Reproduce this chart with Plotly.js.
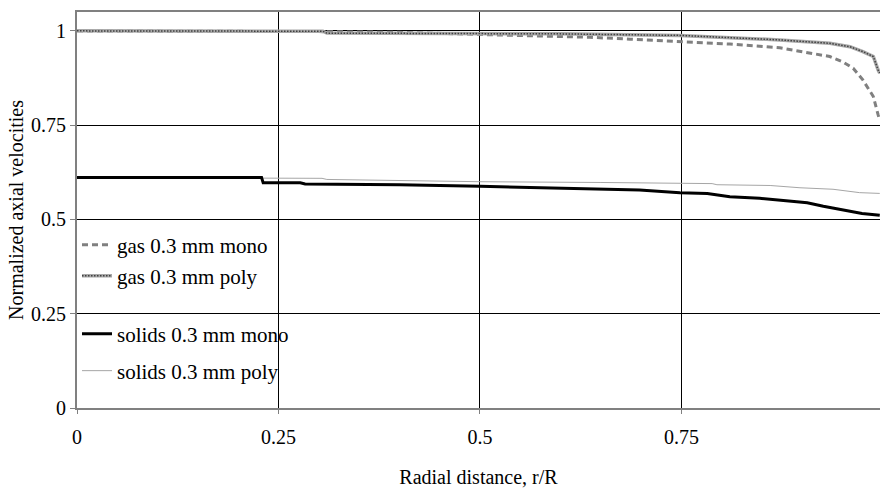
<!DOCTYPE html>
<html>
<head>
<meta charset="utf-8">
<script src="https://cdn.plot.ly/plotly-3.0.1.min.js"></script>
<style>html,body{margin:0;padding:0;background:#fff;}#chart{width:880px;height:488px;}</style>
</head>
<body>
<div id="chart"></div>
<script>
// Gas, 0.3 mm mono (dashed)
const gasMonoR = [0, 0.1, 0.2, 0.3, 0.4, 0.5, 0.55, 0.636, 0.686, 0.748, 0.81, 0.872, 0.913, 0.934, 0.95, 0.963, 0.975, 0.988, 0.994, 0.996];
const gasMonoV = [1.0, 1.0, 0.999, 0.998, 0.996, 0.991, 0.989, 0.983, 0.978, 0.972, 0.965, 0.955, 0.941, 0.932, 0.918, 0.901, 0.870, 0.826, 0.777, 0.763];
// Gas, 0.3 mm poly (textured)
const gasPolyR = [0, 0.1, 0.2, 0.305, 0.31, 0.4, 0.5, 0.6, 0.748, 0.872, 0.934, 0.959, 0.975, 0.988, 0.994, 0.996];
const gasPolyV = [1.0, 1.0, 0.999, 0.999, 0.994, 0.994, 0.994, 0.992, 0.988, 0.976, 0.967, 0.958, 0.945, 0.932, 0.896, 0.888];
// Solids, 0.3 mm mono (thick black)
const solMonoR = [0, 0.229, 0.231, 0.277, 0.283, 0.4, 0.5, 0.599, 0.698, 0.748, 0.782, 0.81, 0.847, 0.893, 0.906, 0.926, 0.95, 0.974, 0.996];
const solMonoV = [0.611, 0.611, 0.597, 0.597, 0.594, 0.592, 0.588, 0.583, 0.578, 0.571, 0.569, 0.560, 0.556, 0.547, 0.544, 0.535, 0.526, 0.516, 0.511];
// Solids, 0.3 mm poly (thin grey)
const solPolyR = [0, 0.229, 0.304, 0.31, 0.5, 0.649, 0.748, 0.788, 0.794, 0.86, 0.897, 0.938, 0.971, 0.996];
const solPolyV = [0.611, 0.610, 0.609, 0.606, 0.600, 0.598, 0.595, 0.595, 0.592, 0.590, 0.584, 0.580, 0.571, 0.569];

const xTicks = [0, 0.25, 0.5, 0.75];
const xTickText = ['0', '0.25', '0.5', '0.75'];
const yTicks = [0, 0.25, 0.5, 0.75, 1];
const yTickText = ['0', '0.25', '0.5', '0.75', '1'];

const F = 'Times New Roman';
const FS = 20;
const FL = 21;

const traces = [
  {x: solPolyR, y: solPolyV, mode: 'lines', name: 'solids 0.3 mm poly', legend: 'legend4',
   line: {color: '#a6a6a6', width: 1}},
  {x: solMonoR, y: solMonoV, mode: 'lines', name: 'solids 0.3 mm mono', legend: 'legend3',
   line: {color: '#000000', width: 3}},
  {x: gasMonoR, y: gasMonoV, mode: 'lines', name: 'gas 0.3 mm mono', legend: 'legend',
   line: {color: '#808080', width: 3, dash: '6px,4px'}},
  {x: gasPolyR, y: gasPolyV, mode: 'lines', name: 'gas 0.3 mm poly', legend: 'legend2',
   line: {color: '#a8a8a8', width: 3.5}},
  {x: gasPolyR, y: gasPolyV, mode: 'lines', name: 'gas 0.3 mm poly', legend: 'legend5',
   line: {color: '#404040', width: 1.5, dash: '1.5px,1.5px'}}
];

function leg(py, transparentText) {
  return {
    x: 0, xanchor: 'left', y: (408 - py) / 396, yanchor: 'middle',
    bgcolor: 'rgba(0,0,0,0)', borderwidth: 0,
    font: {family: F, size: FL, color: transparentText ? 'rgba(0,0,0,0)' : '#000'}
  };
}

const layout = {
  width: 880, height: 488,
  margin: {l: 77, r: 0, t: 12, b: 80},
  paper_bgcolor: '#fff', plot_bgcolor: '#fff',
  font: {family: F, size: FS, color: '#000'},
  showlegend: true,
  legend: leg(245),
  legend2: leg(276),
  legend3: leg(334),
  legend4: leg(371),
  legend5: leg(276, true),
  xaxis: {
    range: [0, 0.9963], tickvals: xTicks, ticktext: xTickText,
    showgrid: true, gridcolor: '#000', gridwidth: 1,
    showline: true, linecolor: '#808080', linewidth: 2, mirror: true,
    ticks: 'outside', ticklen: 4, tickcolor: '#808080', tickwidth: 1,
    ticklabelstandoff: 6, zeroline: false,
    tickfont: {family: F, size: FS, color: '#000'},
    title: {text: 'Radial distance, r/R', font: {family: F, size: FS, color: '#000'}, standoff: 23}
  },
  yaxis: {
    range: [0, 1.05], tickvals: yTicks, ticktext: yTickText,
    showgrid: true, gridcolor: '#000', gridwidth: 1,
    showline: true, linecolor: '#808080', linewidth: 2,
    ticks: 'outside', ticklen: 5, tickcolor: '#808080', tickwidth: 1,
    zeroline: false,
    tickfont: {family: F, size: FS, color: '#000'},
    title: {text: 'Normalized axial velocities', font: {family: F, size: FS, color: '#000'}, standoff: 2}
  }
};

Plotly.newPlot('chart', traces, layout, {displayModeBar: false, staticPlot: true});
</script>
</body>
</html>
